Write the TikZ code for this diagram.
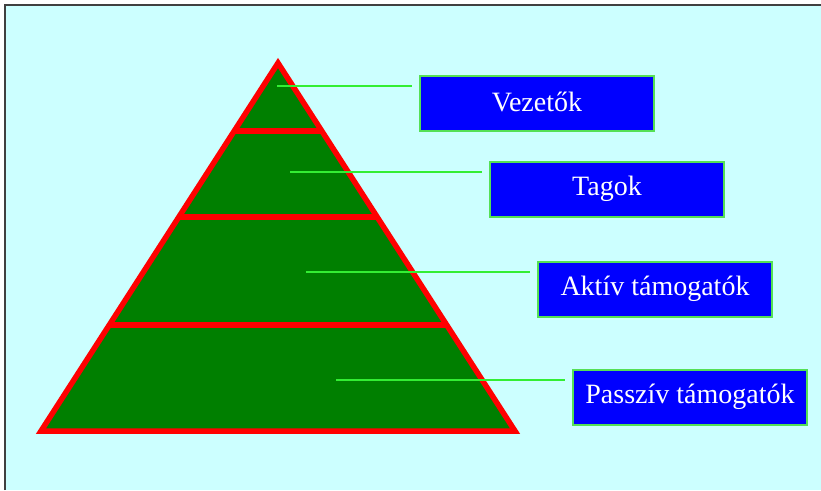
\documentclass[tikz,border=0pt]{standalone}
\usepackage{fontspec}
\setmainfont{Liberation Serif}
\usetikzlibrary{calc}
\definecolor{bgcyan}{HTML}{CCFFFF}
\definecolor{pyrgreen}{HTML}{007F00}
\definecolor{boxblue}{HTML}{0000FF}
\definecolor{boxgreen}{HTML}{55E055}
\definecolor{linkgreen}{HTML}{33EE33}
\definecolor{edgegray}{HTML}{404040}
\tikzset{
  rolebox/.style={draw=boxgreen,line width=2pt,fill=boxblue,text=white,minimum width=234pt,minimum height=55pt,inner sep=0pt,font=\fontsize{28}{32}\selectfont},
  link/.style={draw=linkgreen,line width=2.6pt,shorten >=7pt},
  tier/.style={draw=red,line width=5.5pt}
}

\begin{document}
\begin{tikzpicture}[x=1pt,y=-1pt]
\useasboundingbox (0,0) rectangle (821,490);
\fill[white] (0,0) rectangle (821,490);
\fill[bgcyan] (5,5) rectangle (821,490);
\draw[edgegray,line width=1.5pt] (5,490) -- (5,5) -- (821,5);

% pyramid
\coordinate (apex) at (278,63);
\coordinate (bl) at (41,431);
\coordinate (br) at (515,431);
\draw[tier,fill=pyrgreen,line join=miter] (apex) -- (br) -- (bl) -- cycle;
\draw[tier] ($(apex)!0.185!(bl)$) -- ($(apex)!0.185!(br)$);
\draw[tier] ($(apex)!0.418!(bl)$) -- ($(apex)!0.418!(br)$);
\draw[tier] ($(apex)!0.712!(bl)$) -- ($(apex)!0.712!(br)$);

% labels
\node[rolebox] (vezetok) at (537,103) {\raisebox{3pt}{Vezetők}};
\node[rolebox] (tagok) at (607,189) {\raisebox{3pt}{Tagok}};
\node[rolebox] (aktiv) at (655,289) {\raisebox{3pt}{Aktív támogatók}};
\node[rolebox] (passziv) at (690,397) {\raisebox{3pt}{Passzív támogatók}};

\coordinate (d1) at (277,86);
\coordinate (d2) at (290,172);
\coordinate (d3) at (306,272);
\coordinate (d4) at (336,380);
\draw[link] (d1) -- (d1 -| vezetok.west);
\draw[link] (d2) -- (d2 -| tagok.west);
\draw[link] (d3) -- (d3 -| aktiv.west);
\draw[link] (d4) -- (d4 -| passziv.west);
\end{tikzpicture}
\end{document}
